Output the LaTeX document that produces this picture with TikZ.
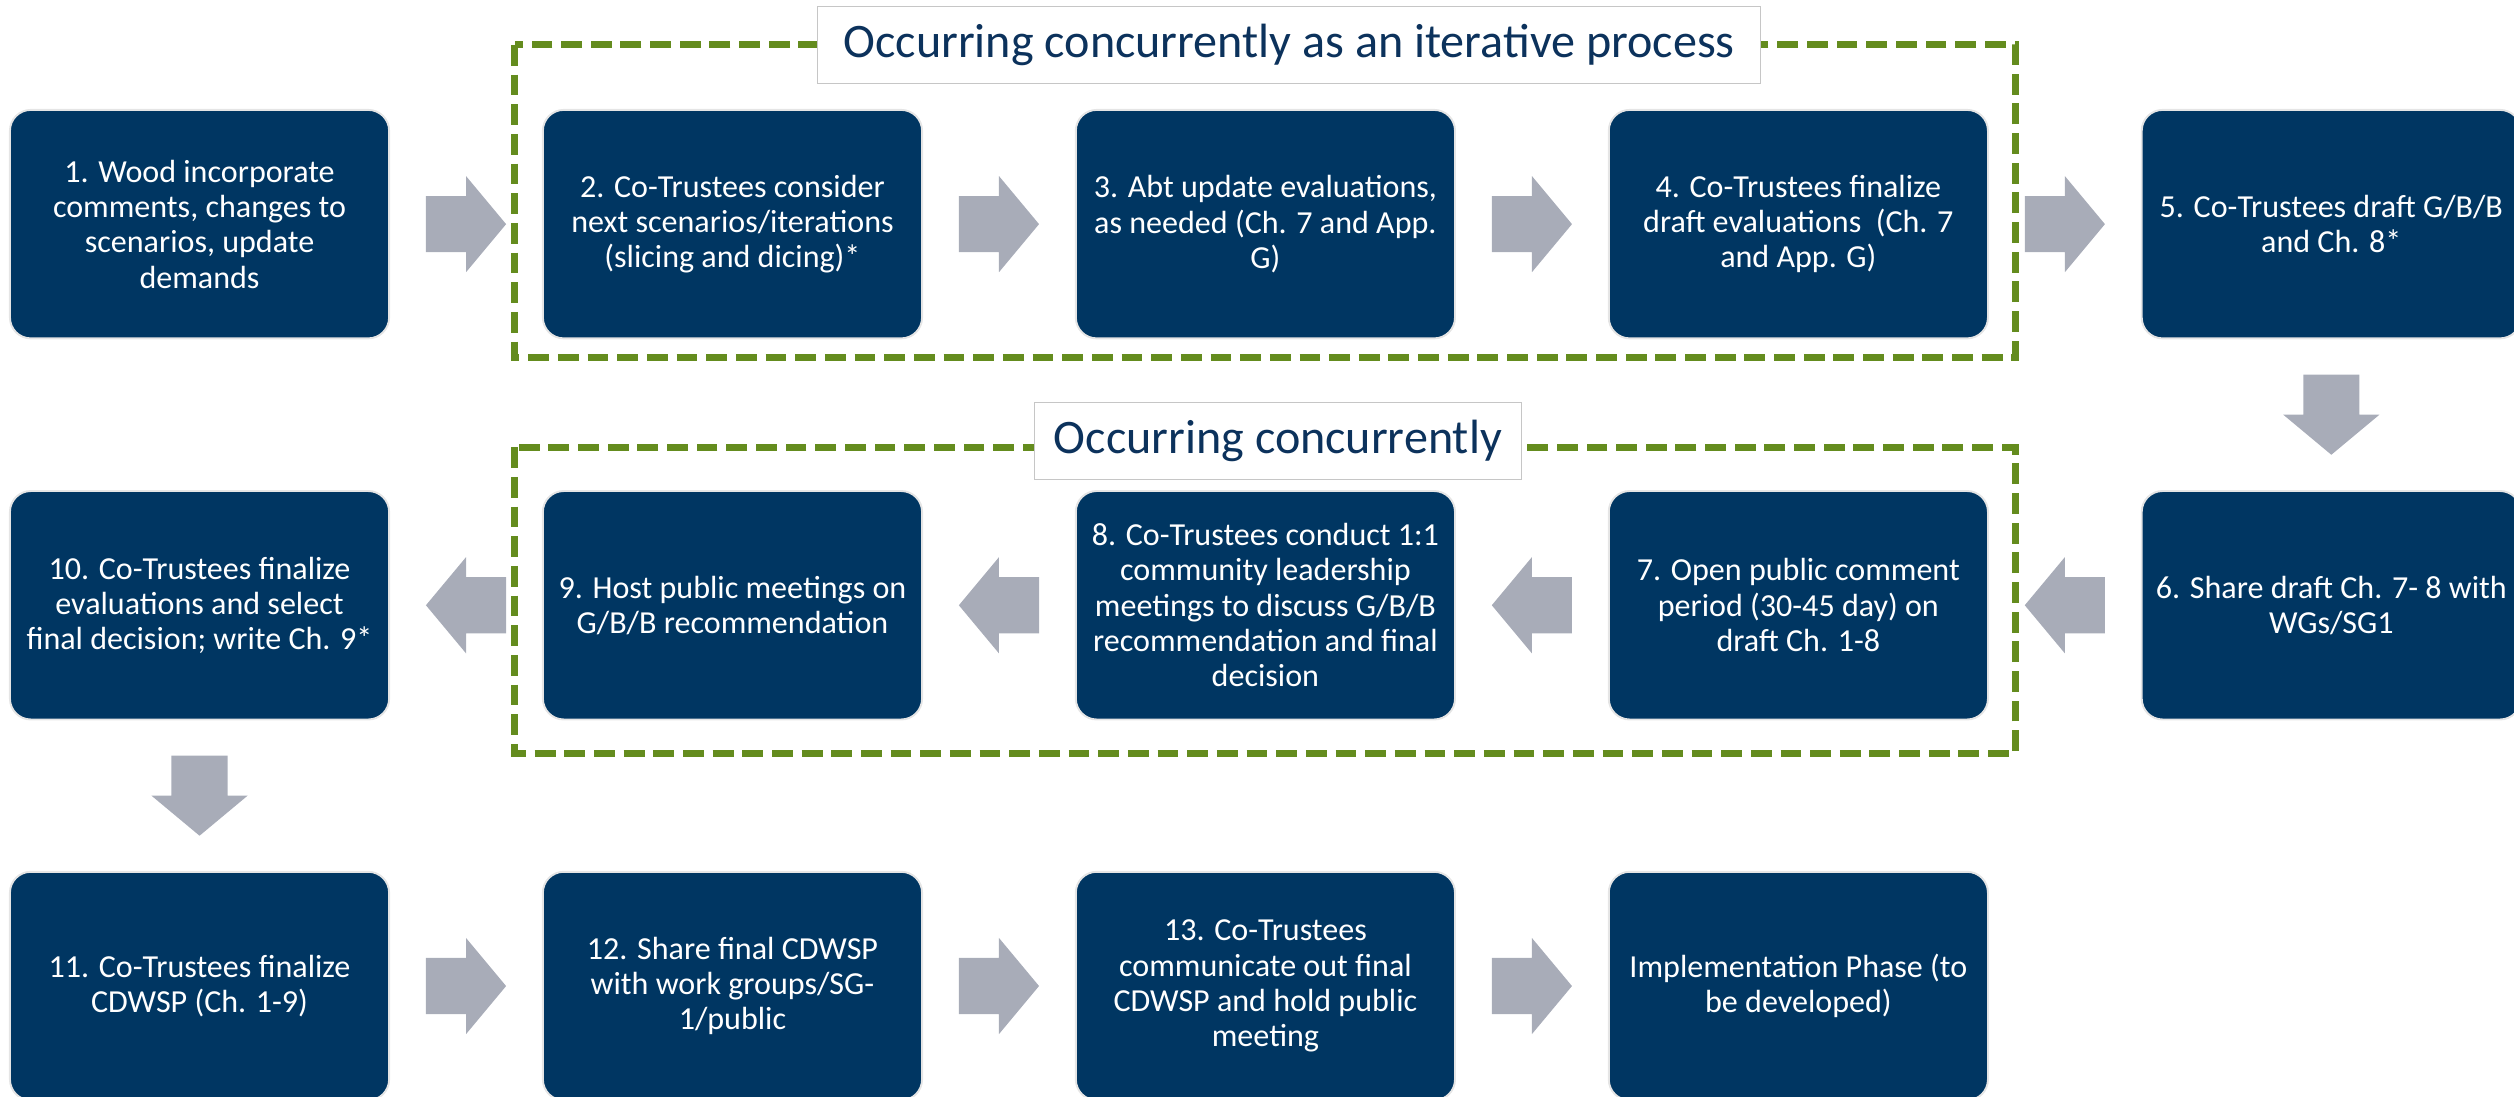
\documentclass[tikz,border=0pt]{standalone}
\usepackage{fontspec}
\setmainfont{Carlito}
\usetikzlibrary{calc}
\definecolor{navy}{RGB}{0,54,98}
\definecolor{agray}{RGB}{168,172,184}
\definecolor{dgreen}{RGB}{100,140,30}
\definecolor{tnavy}{RGB}{12,50,92}
\begin{document}
\begin{tikzpicture}[x=1pt,y=-1pt,
  stepbox/.style={rectangle, rounded corners=13pt, fill=navy, draw=gray!20, line width=1.2pt,
    minimum width=236.5pt, minimum height=142.5pt, inner sep=0pt, align=center, text=white,
    font=\fontsize{20}{22}\selectfont},
  frame/.style={draw=dgreen, line width=4.5pt, dash pattern=on 13pt off 5.5pt},
  titlebox/.style={rectangle, fill=white, draw=gray!45, line width=0.8pt, minimum height=48pt,
    inner sep=0pt, text=tnavy, font=\fontsize{30}{34}\selectfont},
  blockarrow/.pic={\fill[agray] (-25,-17.5) -- (0,-17.5) -- (0,-30) -- (25,0) -- (0,30) -- (0,17.5) -- (-25,17.5) -- cycle;}
]
\useasboundingbox (0,0) rectangle (1568,684);
\clip (0,0) rectangle (1568,684);

% frames
\draw[frame] (321,28) rectangle (1257,223);
\draw[frame] (321,279) rectangle (1257,470);
\node[titlebox, minimum width=588pt] (t1) at (804,28) {Occurring concurrently as an iterative process};
\node[titlebox, minimum width=304pt] (t2) at (797,275) {Occurring concurrently};

% row 1
\node[stepbox] (b1) at (124.45,139.8) {1. Wood incorporate\\comments, changes to\\scenarios, update\\demands};
\node[stepbox] (b2) at (456.85,139.8) {2. Co-Trustees consider\\next scenarios/iterations\\(slicing and dicing)*};
\node[stepbox] (b3) at (789.25,139.8) {3. Abt update evaluations,\\as needed (Ch. 7 and App.\\G)};
\node[stepbox] (b4) at (1121.65,139.8) {4. Co-Trustees finalize\\draft evaluations\ \ (Ch. 7\\and App. G)};
\node[stepbox] (b5) at (1454.05,139.8) {5. Co-Trustees draft G/B/B\\and Ch. 8*};

% row 2
\node[stepbox] (b6) at (1454.05,377.5) {6. Share draft Ch. 7- 8 with\\WGs/SG1};
\node[stepbox] (b7) at (1121.65,377.5) {7. Open public comment\\period (30-45 day) on\\draft Ch. 1-8};
\node[stepbox] (b8) at (789.25,377.5) {8. Co-Trustees conduct 1:1\\community leadership\\meetings to discuss G/B/B\\recommendation and final\\decision};
\node[stepbox] (b9) at (456.85,377.5) {9. Host public meetings on\\G/B/B recommendation};
\node[stepbox] (b10) at (124.45,377.5) {10. Co-Trustees finalize\\evaluations and select\\final decision; write Ch. 9*};

% row 3
\node[stepbox] (b11) at (124.45,615) {11. Co-Trustees finalize\\CDWSP (Ch. 1-9)};
\node[stepbox] (b12) at (456.85,615) {12. Share final CDWSP\\with work groups/SG-\\1/public};
\node[stepbox] (b13) at (789.25,615) {13. Co-Trustees\\communicate out final\\CDWSP and hold public\\meeting};
\node[stepbox] (b14) at (1121.65,615) {Implementation Phase (to\\be developed)};

% arrows
\pic at ($(b1.east)!0.5!(b2.west)$) {blockarrow};
\pic at ($(b2.east)!0.5!(b3.west)$) {blockarrow};
\pic at ($(b3.east)!0.5!(b4.west)$) {blockarrow};
\pic at ($(b4.east)!0.5!(b5.west)$) {blockarrow};
\pic[rotate=-90] at ($(b5.south)!0.5!(b6.north)$) {blockarrow};
\pic[rotate=180] at ($(b6.west)!0.5!(b7.east)$) {blockarrow};
\pic[rotate=180] at ($(b7.west)!0.5!(b8.east)$) {blockarrow};
\pic[rotate=180] at ($(b8.west)!0.5!(b9.east)$) {blockarrow};
\pic[rotate=180] at ($(b9.west)!0.5!(b10.east)$) {blockarrow};
\pic[rotate=-90] at ($(b10.south)!0.5!(b11.north)$) {blockarrow};
\pic at ($(b11.east)!0.5!(b12.west)$) {blockarrow};
\pic at ($(b12.east)!0.5!(b13.west)$) {blockarrow};
\pic at ($(b13.east)!0.5!(b14.west)$) {blockarrow};
\end{tikzpicture}
\end{document}
